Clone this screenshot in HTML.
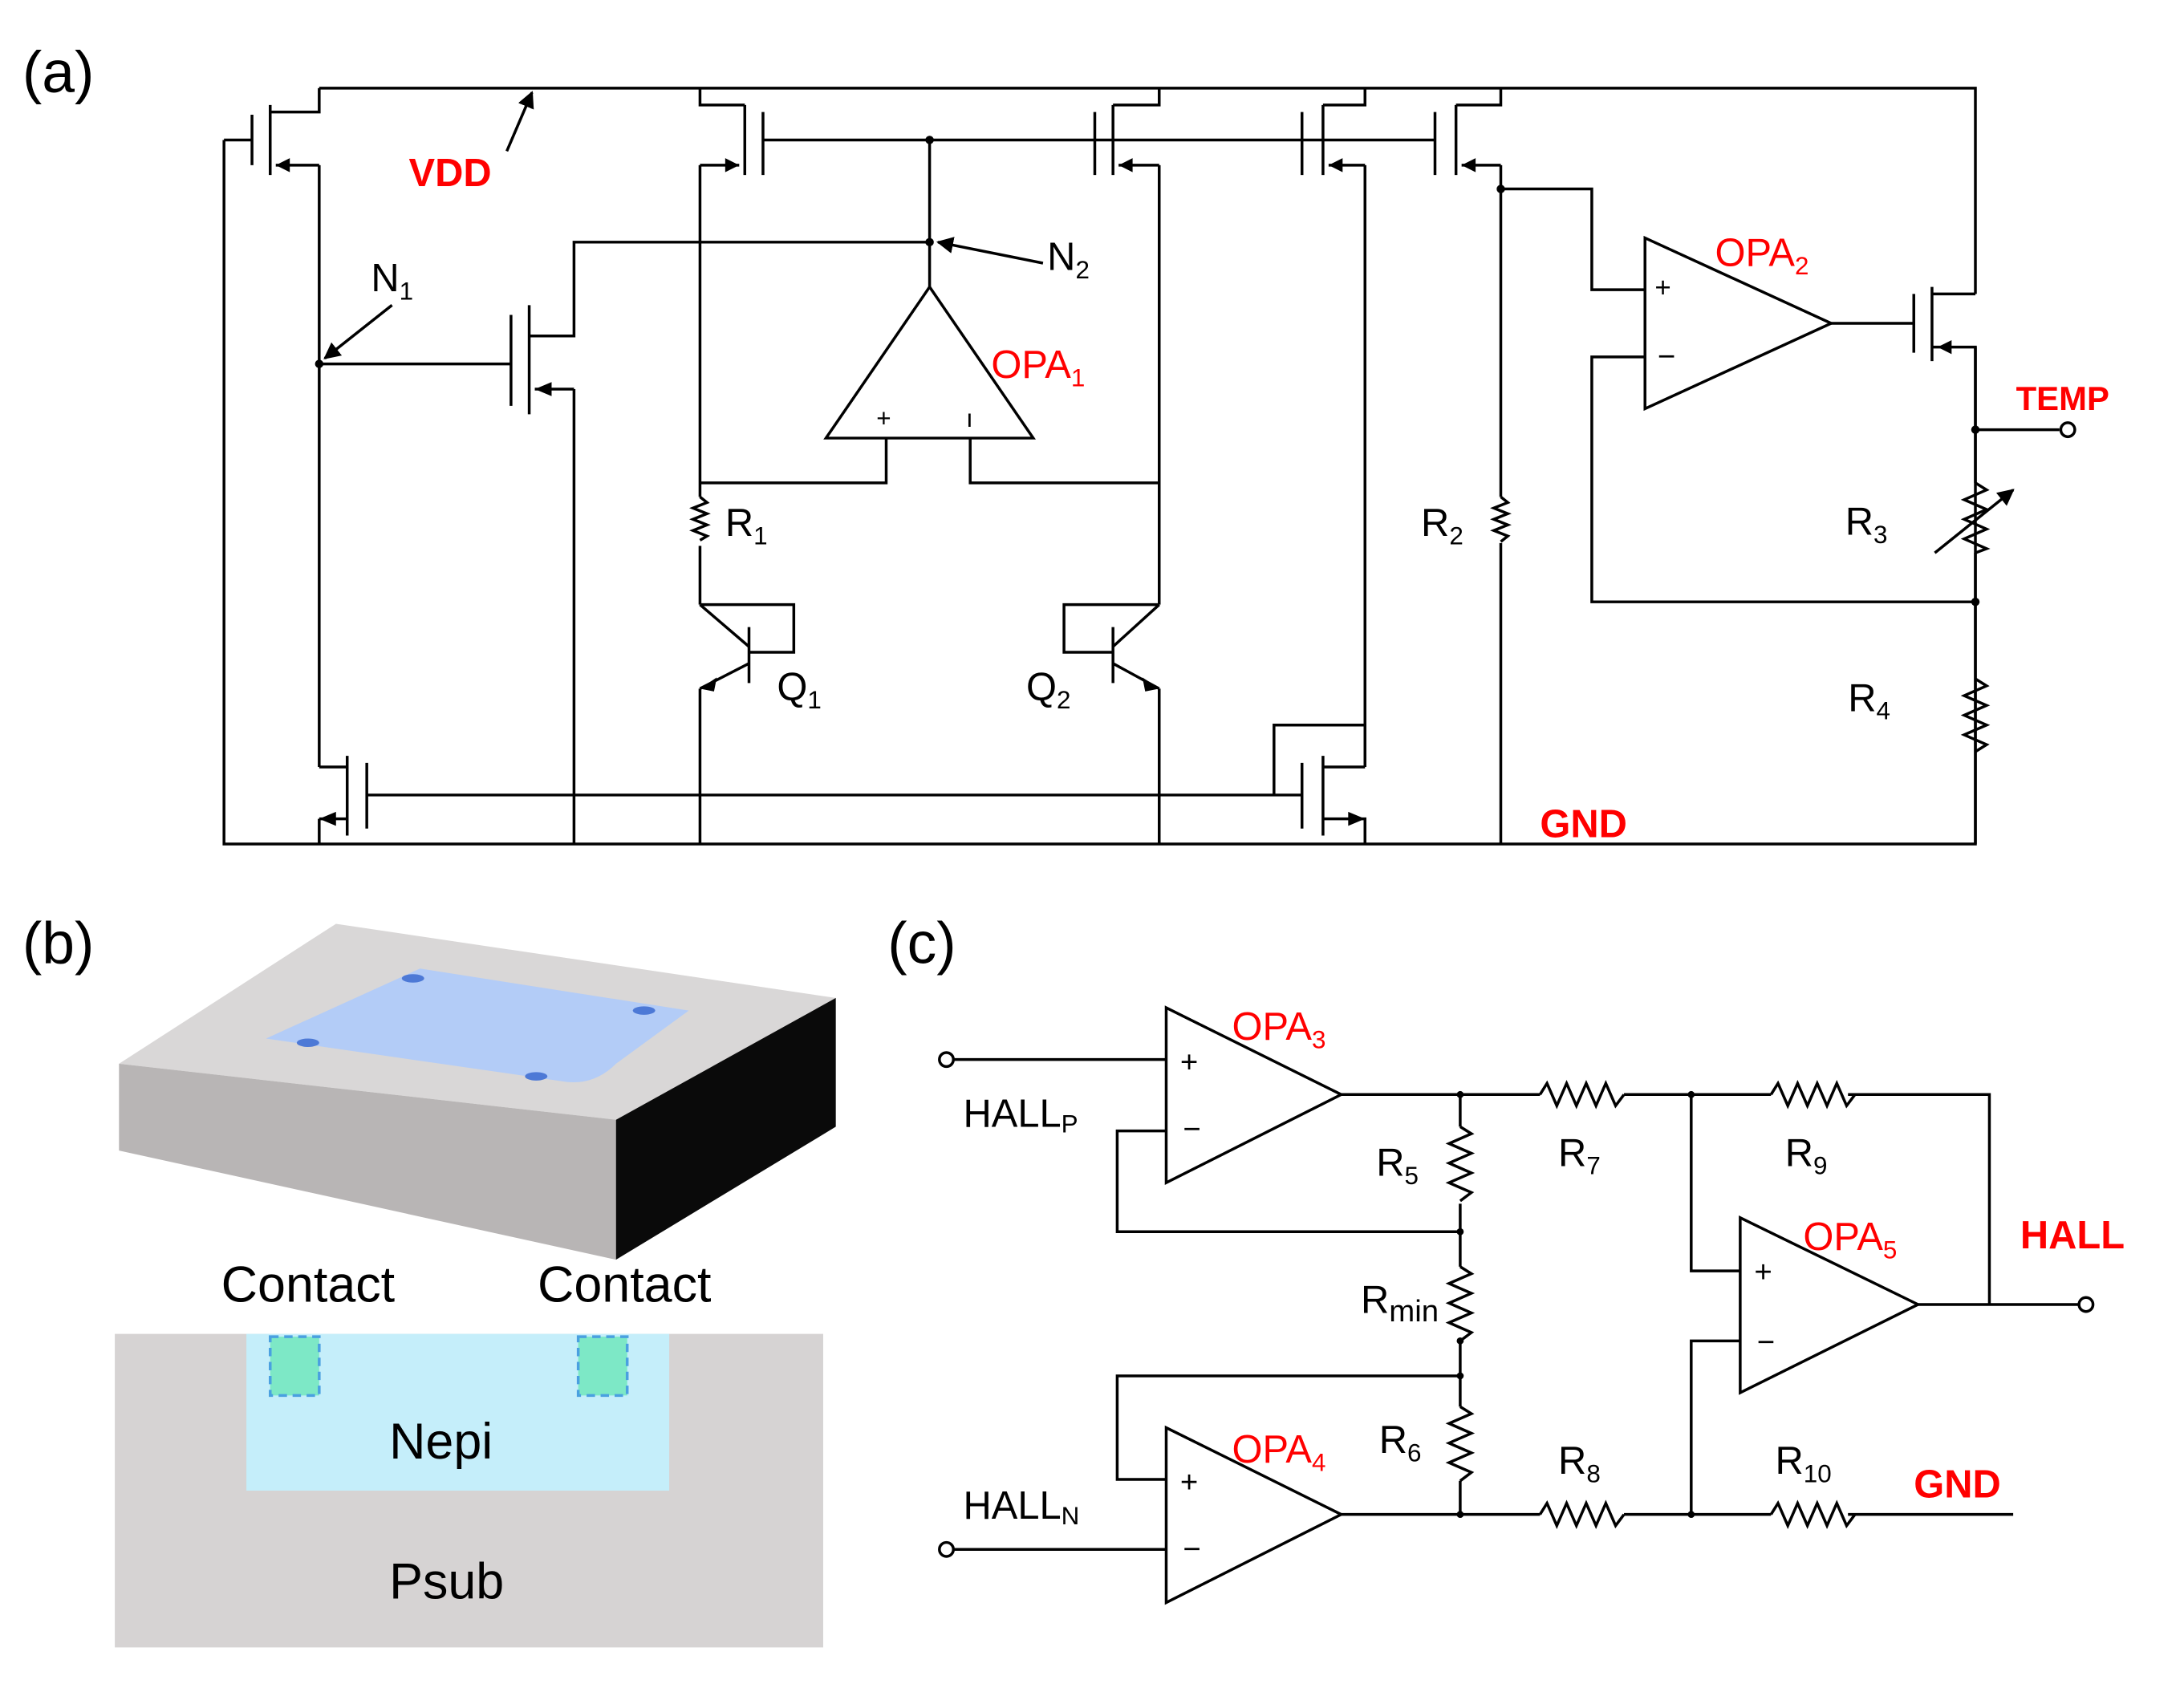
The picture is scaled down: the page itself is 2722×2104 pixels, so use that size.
<!DOCTYPE html>
<html><head><meta charset="utf-8"><style>
html,body{margin:0;padding:0;background:#fff}
svg{display:block}
text{font-family:"Liberation Sans",sans-serif}
.r{fill:#ff0000}
.b{font-weight:bold}
</style></head><body>
<svg width="2722" height="2104" viewBox="0 0 1560 1206" preserveAspectRatio="none" xmlns="http://www.w3.org/2000/svg">
<defs>
<marker id="ar" viewBox="0 0 10 10" refX="9" refY="5" markerWidth="6" markerHeight="6" orient="auto"><path d="M0,0L10,5L0,10z" fill="#000"/></marker>
</defs>
<g stroke="#000" stroke-width="2" fill="none">
<!-- outer rails -->
<path d="M228,63H1411V210"/>
<path d="M160,100V603H1411V248"/>
<!-- PMOS1 -->
<path d="M160,100H180M180,82V118M193,75V125M193,80H228V63M228,118H197"/>
<path d="M228,118V548" />
<!-- N1 node to NMOS mid -->
<path d="M228,260H365M365,225V290M378,218V296M378,240H410V173H664M410,278H382M410,278V603"/>
<!-- PMOS2 -->
<path d="M545,80V125M532,75V125M532,75H500V63M500,118H528M500,118V355M500,390V432"/>
<path d="M545,100H930M664,100V205"/>
<!-- PMOS3 -->
<path d="M782,80V125M795,75V125M795,75H828V63M828,118H799M828,118V432"/>
<!-- PMOS4 -->
<path d="M930,80V125M945,75V125M945,75H975V63M975,118H949M975,118V548"/>
<path d="M930,100H1025"/>
<!-- PMOS5 -->
<path d="M1025,80V125M1040,75V125M1040,75H1072V63M1072,118H1044M1072,118V355M1072,388V603"/>
<!-- OPA1 -->
<path d="M664,205L590,313H738Z"/>
<path d="M633,313V345H500M693,313V345H828"/>
<!-- R1 -->
<path d="M500,355l5,4l-10,4l10,4l-10,4l10,4l-10,4l10,4l-5,3"/>
<!-- R2 -->
<path d="M1072,355l5,4l-10,4l10,4l-10,4l10,4l-10,4l10,4l-5,4"/>
<!-- Q1 -->
<path d="M500,432H567V466H535M535,448V488M535,462L500,432M535,474L500,492"/>
<!-- Q2 -->
<path d="M828,432H760V466H795M795,448V488M795,462L828,432M795,474L828,492"/>
<path d="M500,492V603M828,492V603"/>
<!-- bottom NMOS -->
<path d="M262,545V592M248,540V597M248,548H228M248,585H228M228,585V603"/>
<path d="M262,568H930M930,545V592M945,540V597M945,548H975M945,585H975V603"/>
<path d="M975,518H910V568"/>
<!-- OPA2 -->
<path d="M1175,170V292L1308,231Z"/>
<path d="M1072,135H1137V207H1175M1175,255H1137V430H1411"/>
<path d="M1308,231H1367M1367,210V252M1380,205V258M1380,210H1411M1380,248H1411V345M1411,395V603"/>
<path d="M1411,307H1471"/>
<path d="M1411,345l8,5l-16,7l16,7l-16,7l16,7l-16,7l16,7l-8,3"/>
<path d="M1382,395L1438,350" marker-end="url(#ar)"/>
<path d="M1411,485l8,5l-16,7l16,7l-16,7l16,7l-16,7l16,7l-8,5"/>
</g>
<g fill="#000">
<circle cx="228" cy="260" r="3"/><circle cx="664" cy="100" r="3"/><circle cx="664" cy="173" r="3"/>
<circle cx="1072" cy="135" r="3"/><circle cx="1411" cy="307" r="3"/><circle cx="1411" cy="430" r="3"/>
<path d="M197,118l10,-5v10z M382,278l12,-5v10z M528,118l-10,-5v10z M799,118l10,-5v10z M949,118l10,-5v10z M1044,118l10,-5v10z M1384,248l10,-5v10z M228,585l12,-5v10z M975,585l-12,-5v10z M500,492l12,-8l-2,10z M828,492l-12,-8l2,10z"/>
</g>
<circle cx="1477" cy="307" r="5" fill="#fff" stroke="#000" stroke-width="2"/>
<path d="M362,108L380,66" stroke="#000" stroke-width="2" marker-end="url(#ar)"/>
<path d="M280,218L232,256" stroke="#000" stroke-width="2" marker-end="url(#ar)"/>
<path d="M745,188L670,173" stroke="#000" stroke-width="2" marker-end="url(#ar)"/>
<g font-size="28">
<text x="16" y="66" font-size="42">(a)</text>
<text x="292" y="133" class="r b">VDD</text>
<text x="265" y="208">N<tspan font-size="18" dy="6">1</tspan></text>
<text x="748" y="193">N<tspan font-size="18" dy="6">2</tspan></text>
<text x="708" y="270" class="r">OPA<tspan font-size="18" dy="6">1</tspan></text>
<text x="518" y="383">R<tspan font-size="18" dy="6">1</tspan></text>
<text x="555" y="500">Q<tspan font-size="18" dy="6">1</tspan></text>
<text x="733" y="500">Q<tspan font-size="18" dy="6">2</tspan></text>
<text x="1015" y="383">R<tspan font-size="18" dy="6">2</tspan></text>
<text x="1225" y="190" class="r">OPA<tspan font-size="18" dy="6">2</tspan></text>
<text x="1440" y="293" font-size="24" class="r b">TEMP</text>
<text x="1318" y="382">R<tspan font-size="18" dy="6">3</tspan></text>
<text x="1320" y="508">R<tspan font-size="18" dy="6">4</tspan></text>
<text x="1100" y="598" class="r b">GND</text>
<text x="1182" y="212" font-size="20">+</text>
<text x="1184" y="262" font-size="22">−</text>
<text x="626" y="305" font-size="18">+</text>
<text x="690" y="305" font-size="18">ı</text>
</g>
<!-- (b) -->
<text x="16" y="688" font-size="42">(b)</text>
<polygon points="85,760 240,660 597,713 440,800" fill="#d9d7d7"/>
<polygon points="85,760 440,800 440,900 85,822" fill="#b8b5b5"/>
<polygon points="440,800 597,713 597,805 440,900" fill="#0a0a0a"/>
<path d="M190,742L300,692L492,722L440,760Q425,775 405,773Z" fill="#b3ccf7"/>
<g fill="#4d79d6"><ellipse cx="295" cy="699" rx="8" ry="3"/><ellipse cx="460" cy="722" rx="8" ry="3"/><ellipse cx="220" cy="745" rx="8" ry="3"/><ellipse cx="383" cy="769" rx="8" ry="3"/></g>
<text x="158" y="930" font-size="36">Contact</text>
<text x="384" y="930" font-size="36">Contact</text>
<rect x="82" y="953" width="506" height="224" fill="#d6d3d3"/>
<rect x="176" y="953" width="302" height="112" fill="#c5eefa"/>
<rect x="193" y="955" width="35" height="42" fill="#7de8c6" stroke="#4aa0e0" stroke-dasharray="6,4" stroke-width="2"/>
<rect x="413" y="955" width="35" height="42" fill="#7de8c6" stroke="#4aa0e0" stroke-dasharray="6,4" stroke-width="2"/>
<text x="278" y="1042" font-size="36">Nepi</text>
<text x="278" y="1142" font-size="36">Psub</text>
<!-- (c) -->
<text x="634" y="688" font-size="42">(c)</text>
<g stroke="#000" stroke-width="2" fill="none">
<path d="M833,720V845L958,782Z M833,1020V1145L958,1082Z M1243,870V995L1370,932Z"/>
<path d="M681,757H833M833,808H798V880H1043M958,782H1100M1160,782H1265M1320,782H1421V932M1370,932H1485"/>
<path d="M1043,782V805M1043,860V905M1043,958V1005M1043,1058V1080"/>
<path d="M1043,805l8,5l-16,7l16,7l-16,7l16,7l-16,7l16,7l-8,6 M1043,905l8,5l-16,7l16,7l-16,7l16,7l-16,7l16,7l-8,6 M1043,1005l8,5l-16,7l16,7l-16,7l16,7l-16,7l16,7l-8,6"/>
<path d="M1100,782l5,-8l7,16l7,-16l7,16l7,-16l7,16l7,-16l7,16l6,-8 M1265,782l5,-8l7,16l7,-16l7,16l7,-16l7,16l7,-16l7,16l6,-8 M1100,1082l5,-8l7,16l7,-16l7,16l7,-16l7,16l7,-16l7,16l6,-8 M1265,1082l5,-8l7,16l7,-16l7,16l7,-16l7,16l7,-16l7,16l6,-8"/>
<path d="M833,1057H798V983H1043M681,1107H833M958,1082H1100M1160,1082H1265M1320,1082H1438"/>
<path d="M1208,782V908H1243M1243,958H1208V1082"/>
</g>
<g fill="#000"><circle cx="1043" cy="782" r="2.5"/><circle cx="1043" cy="880" r="2.5"/><circle cx="1043" cy="958" r="2.5"/><circle cx="1043" cy="983" r="2.5"/><circle cx="1043" cy="1082" r="2.5"/><circle cx="1208" cy="782" r="2.5"/><circle cx="1208" cy="1082" r="2.5"/></g>
<g fill="#fff" stroke="#000" stroke-width="2"><circle cx="676" cy="757" r="5"/><circle cx="676" cy="1107" r="5"/><circle cx="1490" cy="932" r="5"/></g>
<g font-size="28">
<text x="843" y="766" font-size="22">+</text><text x="845" y="814" font-size="22">−</text>
<text x="843" y="1066" font-size="22">+</text><text x="845" y="1114" font-size="22">−</text>
<text x="1253" y="916" font-size="22">+</text><text x="1255" y="966" font-size="22">−</text>
<text x="688" y="805">HALL<tspan font-size="18" dy="4">P</tspan></text>
<text x="688" y="1085">HALL<tspan font-size="18" dy="4">N</tspan></text>
<text x="880" y="743" class="r">OPA<tspan font-size="18" dy="6">3</tspan></text>
<text x="880" y="1045" class="r">OPA<tspan font-size="18" dy="6">4</tspan></text>
<text x="1288" y="893" class="r">OPA<tspan font-size="18" dy="6">5</tspan></text>
<text x="1443" y="892" class="r b">HALL</text>
<text x="1367" y="1070" class="r b">GND</text>
<text x="983" y="840">R<tspan font-size="18" dy="6">5</tspan></text>
<text x="972" y="938">R<tspan font-size="22" dy="6">min</tspan></text>
<text x="985" y="1038">R<tspan font-size="18" dy="6">6</tspan></text>
<text x="1113" y="833">R<tspan font-size="18" dy="6">7</tspan></text>
<text x="1275" y="833">R<tspan font-size="18" dy="6">9</tspan></text>
<text x="1113" y="1053">R<tspan font-size="18" dy="6">8</tspan></text>
<text x="1268" y="1053">R<tspan font-size="18" dy="6">10</tspan></text>
</g>
</svg>
</body></html>
